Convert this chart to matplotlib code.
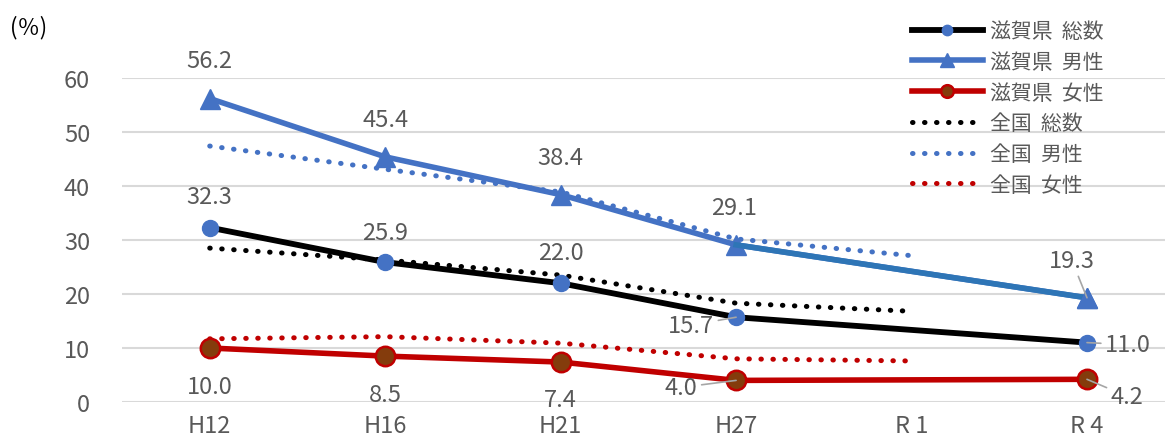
import numpy as np
import matplotlib
matplotlib.use("Agg")
import matplotlib.pyplot as plt

plt.rcParams["font.family"] = ["Noto Sans CJK JP", "DejaVu Sans"]
NUM_FONT = ["Liberation Sans Narrow", "Noto Sans CJK JP", "DejaVu Sans"]

# data
years = ["H12", "H16", "H21", "H27", "R 1", "R 4"]
shiga_total = [32.3, 25.9, 22.0, 15.7, np.nan, 11.0]
shiga_male = [56.2, 45.4, 38.4, 29.1, np.nan, 19.3]
shiga_female = [10.0, 8.5, 7.4, 4.0, np.nan, 4.2]
japan_total = [28.5, 26.3, 23.5, 18.3, 16.8, np.nan]
japan_male = [47.4, 43.1, 38.9, 30.2, 27.1, np.nan]
japan_female = [11.7, 12.1, 10.9, 8.0, 7.6, np.nan]

BLACK = "#000000"
BLUE = "#4472C4"
BLUE2 = "#2E75B6"
RED = "#C00000"
BROWN = "#843C0C"
GRAY = "#595959"
GRID = "#D9D9D9"
LEADER = "#A6A6A6"

W, H = 1165, 439
fig = plt.figure(figsize=(W / 100, H / 100), dpi=100)
ax = fig.add_axes([122 / W, 1 - 403 / H, 1 - 122 / W, (403 - 79) / H])

x = np.arange(len(years))


def valid(vals):
    v = np.array(vals, dtype=float)
    m = ~np.isnan(v)
    return x[m], v[m]


dot = (0, (0.1, 2.3))

# national (dotted)
for vals, col, lab in [(japan_total, BLACK, "全国  総数"),
                       (japan_male, BLUE, "全国  男性"),
                       (japan_female, RED, "全国  女性")]:
    xx, yy = valid(vals)
    ax.plot(xx, yy, color=col, lw=3.6, linestyle=dot, dash_capstyle="round",
            label=lab, zorder=3, clip_on=False)

# Shiga (solid with markers)
xx, yy = valid(shiga_total)
ax.plot(xx, yy, color=BLACK, lw=4.2, marker="o", ms=11.5, mfc=BLUE, mec=BLUE,
        label="滋賀県  総数", zorder=4, clip_on=False)
xx, yy = valid(shiga_male)
ax.plot(xx, yy, color=BLUE, lw=4.0, marker="^", ms=15, mfc=BLUE, mec=BLUE,
        label="滋賀県  男性", zorder=4, clip_on=False)
ax.plot(xx[-2:], yy[-2:], color=BLUE2, lw=4.0, zorder=4.5, clip_on=False)
ax.plot(xx[-1:], yy[-1:], linestyle="none", marker="^", ms=15, mfc=BLUE,
        mec=BLUE, zorder=4.6, clip_on=False)
xx, yy = valid(shiga_female)
ax.plot(xx, yy, color=RED, lw=4.0, marker="o", ms=14, mfc=BROWN, mec=RED,
        mew=1.8, label="滋賀県  女性", zorder=4, clip_on=False)

# data labels (pixel offsets, leader flag)
lab_kw = dict(fontsize=17, color=GRAY, ha="center", va="center",
              family=NUM_FONT, textcoords="offset pixels", zorder=6)
offsets = {
    "male": [(0, 38, False), (0, 37, False), (0, 37, False), (-2, 37, False),
             None, (-15, 37, True)],
    "total": [(0, 31, False), (0, 30, False), (0, 31, False), (-45, -8, True),
              None, (41, -2, True)],
    "female": [(0, -39, False), (0, -38, False), (0, -37, False),
               (-55, -7, True), None, (40, -17, True)],
}
for key, vals in [("male", shiga_male), ("total", shiga_total),
                  ("female", shiga_female)]:
    for i, v in enumerate(vals):
        if np.isnan(v):
            continue
        dx, dy, lead = offsets[key][i]
        arrow = dict(arrowstyle="-", color=LEADER, lw=1.2, shrinkA=1,
                     shrinkB=0) if lead else None
        ax.annotate(f"{v:.1f}", xy=(x[i], v), xytext=(dx, dy),
                    arrowprops=arrow, **lab_kw)

ax.set_xlim(-0.5, 5 + 78 / 175.45)
ax.set_ylim(0, 60)
ax.set_yticks(np.arange(0, 61, 10))
ax.set_xticks(x)
ax.set_xticklabels(years)
ax.tick_params(axis="both", length=0, labelsize=17, labelcolor=GRAY)
ax.tick_params(axis="y", pad=23)
ax.tick_params(axis="x", pad=9)
for t in ax.get_xticklabels() + ax.get_yticklabels():
    t.set_family(NUM_FONT)
ax.grid(axis="y", color=GRID, lw=1.5)
ax.set_axisbelow(True)
for s in ax.spines.values():
    s.set_visible(False)

fig.text(10 / W, 1 - 28 / H, "(％)", fontsize=16, color=BLACK,
         ha="left", va="center")

handles, labels = ax.get_legend_handles_labels()
order = [3, 4, 5, 0, 1, 2]
fig.legend([handles[i] for i in order], [labels[i] for i in order],
           loc="upper left", bbox_to_anchor=(912 / W, 1 - 21 / H),
           frameon=False, fontsize=15, labelcolor=GRAY, numpoints=1,
           markerscale=0.65, handlelength=3.4, handletextpad=0.35,
           labelspacing=0.42, borderpad=0, borderaxespad=0)

fig.savefig("out.png", dpi=100)
